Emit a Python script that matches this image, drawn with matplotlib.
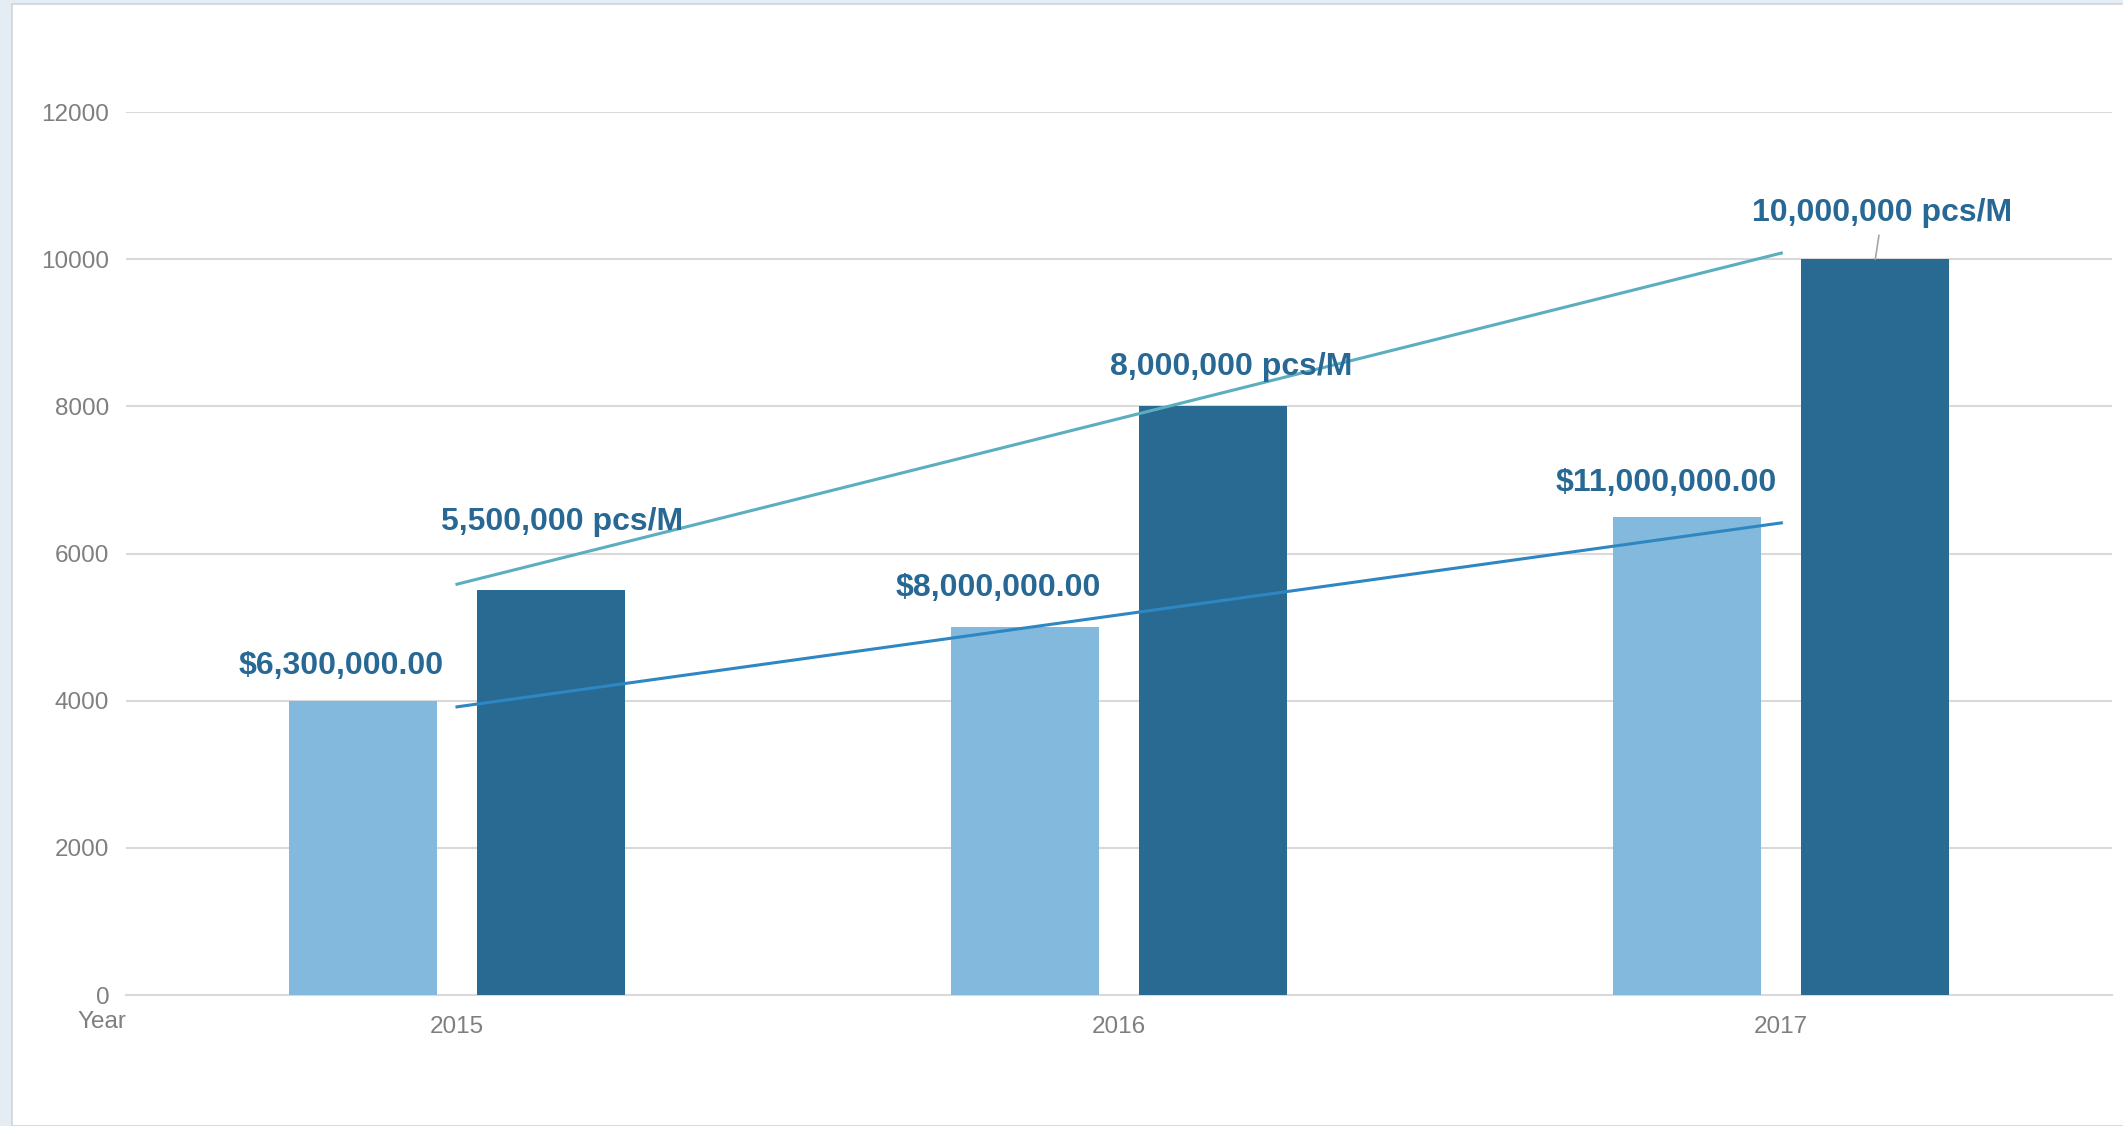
import numpy as np
import matplotlib
matplotlib.use('Agg')
import matplotlib.pyplot as plt
from matplotlib.patches import Rectangle

plt.rcParams['font.family'] = ['Liberation Sans', 'DejaVu Sans']

# data
years = ['2015', '2016', '2017']
value_bars = [4000, 5000, 6500]        # light bars (sales)
output_bars = [5500, 8000, 10000]      # dark bars (capacity)
value_labels = ['$6,300,000.00', '$8,000,000.00', '$11,000,000.00']
output_labels = ['5,500,000 pcs/M', '8,000,000 pcs/M', '10,000,000 pcs/M']

light = '#83B9DC'
dark = '#286A92'
label_col = '#276894'
tick_col = '#7F7F7F'
grid_col = '#D9D9D9'

fig = plt.figure(figsize=(21.23, 11.26), dpi=100)
fig.patch.set_facecolor('#E3EDF3')
# white slide panel
fig.patches.append(Rectangle((0.0055, 0), 1.0, 0.9965, transform=fig.transFigure,
                             facecolor='white', edgecolor='#D0D4D8', lw=1.2, zorder=-10))

ax = fig.add_axes([0.0593, 0.1163, 0.9357, 0.7842])
ax.set_facecolor('none')
ax.set_zorder(1)

x = np.arange(len(years))
w = 0.223
off = 0.142
ax.bar(x - off, value_bars, w, color=light, zorder=3)
ax.bar(x + off, output_bars, w, color=dark, zorder=3)

# linear trendlines
xs = np.array([0, len(years) - 1])
p1 = np.polyfit(x, output_bars, 1)
p2 = np.polyfit(x, value_bars, 1)
ax.plot(xs, np.polyval(p1, xs), color='#5BAEC0', lw=2.2, zorder=4)
ax.plot(xs, np.polyval(p2, xs), color='#2E87C2', lw=2.2, zorder=4)

# data labels
lab_off_light = [(-16, 25), (-19, 28), (-15, 24)]
lab_off_dark = [(8, 49), (13, 28), (5, 33)]
for i in range(len(years)):
    ax.annotate(value_labels[i], (x[i] - off, value_bars[i]), xytext=lab_off_light[i],
                textcoords='offset points', ha='center', va='center',
                fontsize=23, fontweight='bold', color=label_col, zorder=5)
    arrow = None
    if i == len(years) - 1:
        arrow = dict(arrowstyle='-', color='#A6A6A6', lw=1.2, shrinkA=3, shrinkB=0)
    ax.annotate(output_labels[i], (x[i] + off, output_bars[i]), xytext=lab_off_dark[i],
                textcoords='offset points', ha='center', va='center',
                fontsize=23, fontweight='bold', color=label_col, zorder=5,
                arrowprops=arrow)

ax.set_xlim(-0.5, 2.5)
ax.set_ylim(0, 12000)
ax.set_yticks(range(0, 12001, 2000))
ax.set_xticks(x)
ax.set_xticklabels(years)
ax.yaxis.grid(True, color=grid_col, lw=1.5, zorder=0)
ax.set_axisbelow(True)
for s in ['top', 'right', 'left']:
    ax.spines[s].set_visible(False)
ax.spines['bottom'].set_color(grid_col)
ax.spines['bottom'].set_linewidth(1.5)
ax.tick_params(axis='both', length=0, labelsize=17.5, labelcolor=tick_col)
ax.tick_params(axis='y', pad=12)
ax.tick_params(axis='x', pad=15)

ax.text(-0.012, -0.03, 'Year', transform=ax.transAxes, ha='center', va='center',
        fontsize=17.5, color=tick_col)

fig.savefig('out.png', dpi=100, facecolor=fig.get_facecolor())
